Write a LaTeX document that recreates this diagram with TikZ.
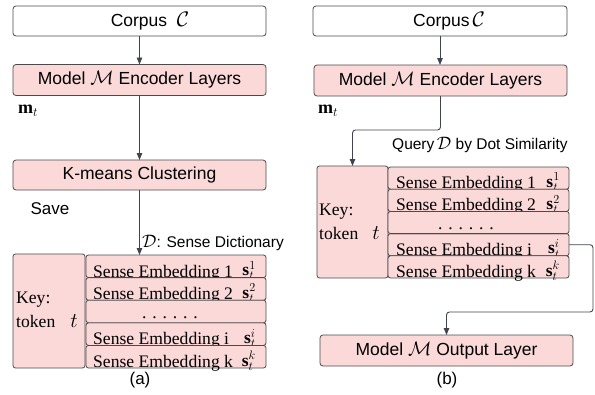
\RequirePackage{fix-cm}
\documentclass[tikz,border=0pt]{standalone}
\usepackage{fontspec}
\setmainfont{Liberation Serif}
\setsansfont{Liberation Sans}
\usetikzlibrary{arrows.meta,calc}
\definecolor{pinkfill}{HTML}{FBD9D9}
\definecolor{edge}{HTML}{4A4A4A}
\definecolor{arrcol}{HTML}{3E4550}
\newcommand\bm[2]{\mbox{\fontsize{#1}{#1}\selectfont$#2$}}
\tikzset{
  box/.style={draw=edge,line width=0.8pt,rounded corners=3pt,inner sep=0pt,outer sep=0pt,
    font=\sffamily\fontsize{17.5}{20}\selectfont},
  pinkbox/.style={box,fill=pinkfill},
  whitebox/.style={box,fill=white},
  rowbox/.style={draw=edge,line width=0.8pt,rounded corners=2.5pt,fill=pinkfill,inner sep=0pt,outer sep=0pt},
  serif/.style={inner sep=0pt,font=\rmfamily\fontsize{17.6}{20}\selectfont},
  sans/.style={inner sep=0pt,font=\sffamily\fontsize{17}{20}\selectfont},
  lab/.style={inner sep=0pt,font=\sffamily\fontsize{15.5}{18}\selectfont},
  arr/.style={draw=arrcol,line width=0.9pt,-{Triangle[length=7pt,width=5.5pt]}},
}
\begin{document}
\begin{tikzpicture}[x=1pt,y=-1pt]
\useasboundingbox (0,0) rectangle (595,394);
% ---------- (a) ----------
\node[whitebox,minimum width=253pt,minimum height=30pt] (corpusA) at (139.5,21) {};
\node[sans,font=\sffamily\fontsize{17.5}{20}\selectfont] (corpusAt) at (150,21) {Corpus~~\bm{21}{\mathcal{C}}};
\node[pinkbox,minimum width=253pt,minimum height=31pt] (encA) at (139.5,80) {Model \bm{19.5}{\mathcal{M}} Encoder Layers};
\node[inner sep=0pt] (mA) at (28,111) {\bm{18}{\mathbf{m}_t}};
\node[pinkbox,minimum width=253pt,minimum height=30pt] (kmA) at (139.5,175) {K-means Clustering};
\node[sans] (saveA) at (50,209) {Save};
\node[lab,anchor=west] (dictA) at (142,243) {\bm{18}{\mathcal{D}}: Sense Dictionary};
\node[rowbox,minimum width=72pt,minimum height=114pt] (keyA) at (49,311) {};
\node[serif,anchor=west] (keyAt) at (16,300) {Key:};
\node[serif,anchor=west] (tokA) at (16,321) {token};
\node[inner sep=0pt] (tA) at (74,321) {\bm{21}{t}};
\foreach \i/\y/\txt/\sup in {1/266.3/Sense Embedding 1/1, 2/288.9/Sense Embedding 2/2, 4/334.1/Sense Embedding i/i, 5/356.7/Sense Embedding k/k}{
  \node[rowbox,minimum width=180pt,minimum height=22.6pt] (rA\i) at (176,\y) {};
  \node[serif,anchor=base west,xshift=7pt,yshift=0.5pt] (rA\i t) at (rA\i.south west) {\txt};
  \node[inner sep=0pt,anchor=base east,xshift=-10pt,yshift=2pt] (rA\i s) at (rA\i.south east) {\bm{17.5}{\smash{\mathbf{s}_t^{\sup}}}};
}
\node[rowbox,minimum width=180pt,minimum height=22.6pt] (rA3) at (176,311.5) {};
\node[serif,anchor=base,yshift=4pt] (rA3t) at ($(rA3.south west)+(84,0)$) {.\,\,.\,\,.\,\,.\,\,.\,\,.};
\node[sans] (capA) at (140,380) {(a)};
\draw[arr] (corpusA) -- (encA);
\draw[arr] (encA) -- (kmA);
\draw[arr] (kmA.south) -- (kmA.south |- rA1.north);
% ---------- (b) ----------
\node[whitebox,minimum width=254pt,minimum height=30pt] (corpusB) at (440,21) {};
\node[sans,font=\sffamily\fontsize{17.5}{20}\selectfont] (corpusBt) at (449,21) {Corpus\,\bm{21}{\mathcal{C}}};
\node[pinkbox,minimum width=253pt,minimum height=31pt] (encB) at (440.5,80.5) {Model \bm{19.5}{\mathcal{M}} Encoder Layers};
\node[inner sep=0pt] (mB) at (328,111) {\bm{18}{\mathbf{m}_t}};
\node[lab,anchor=west] (query) at (392,145) {Query\,\bm{18}{\mathcal{D}} by Dot Similarity};
\node[rowbox,minimum width=71pt,minimum height=112pt] (keyB) at (352.5,222) {};
\node[serif,anchor=west] (keyBt) at (319,212) {Key:};
\node[serif,anchor=west] (tokB) at (319,233) {token};
\node[inner sep=0pt] (tB) at (376,233) {\bm{21}{t}};
\foreach \i/\y/\txt/\sup in {1/178.1/Sense Embedding 1/1, 2/200.3/Sense Embedding 2/2, 4/244.7/Sense Embedding i/i, 5/266.9/Sense Embedding k/k}{
  \node[rowbox,minimum width=181pt,minimum height=22.2pt] (rB\i) at (478.5,\y) {};
  \node[serif,anchor=base west,xshift=8pt,yshift=0.5pt] (rB\i t) at (rB\i.south west) {\txt};
  \node[inner sep=0pt,anchor=base east,xshift=-9pt,yshift=2pt] (rB\i s) at (rB\i.south east) {\bm{17.5}{\smash{\mathbf{s}_t^{\sup}}}};
}
\node[rowbox,minimum width=181pt,minimum height=22.2pt] (rB3) at (478.5,222.5) {};
\node[serif,anchor=base,yshift=4pt] (rB3t) at ($(rB3.south west)+(78,0)$) {.\,\,.\,\,.\,\,.\,\,.\,\,.};
\node[pinkbox,minimum width=253pt,minimum height=31pt] (outB) at (446.5,350.5) {Model \bm{19.5}{\mathcal{M}} Output Layer};
\node[sans] (capB) at (447,380) {(b)};
\coordinate (bendB) at (593,312);
\draw[arr] (corpusB) -- (corpusB |- encB.north);
\draw[arr,rounded corners=3pt] (encB.south) -- ++(0,34) -| (keyB.north);
\draw[arr,rounded corners=3pt] (rB4.east) -| (bendB) -| (outB.north);
\end{tikzpicture}
\end{document}
